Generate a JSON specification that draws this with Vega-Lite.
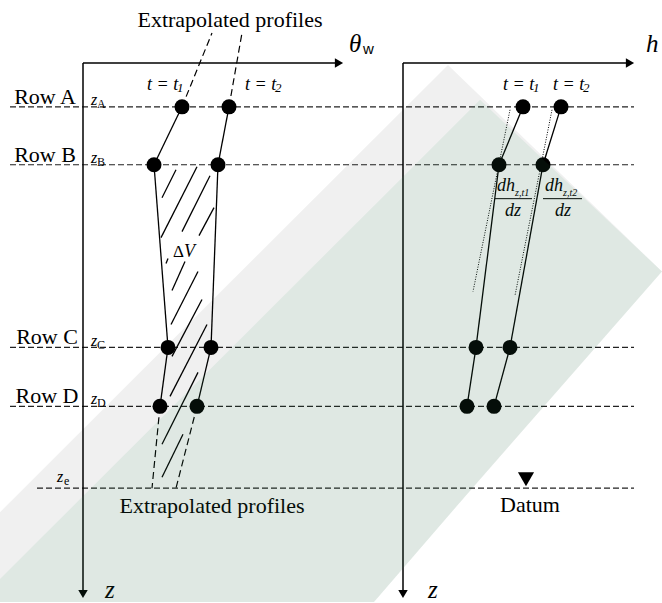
{
  "$schema": "https://vega.github.io/schema/vega-lite/v6.json",
  "width": 662,
  "height": 603,
  "autosize": {"type": "fit", "contains": "padding"},
  "padding": 0,
  "background": "white",
  "config": {"view": {"stroke": null}},
  "datasets": {
    "segs": [
      {"kind": "row", "x": 10, "y": 107, "x2": 634, "y2": 107},
      {"kind": "row", "x": 10, "y": 165, "x2": 634, "y2": 165},
      {"kind": "row", "x": 10, "y": 348, "x2": 634, "y2": 348},
      {"kind": "row", "x": 10, "y": 407, "x2": 634, "y2": 407},
      {"kind": "row", "x": 37, "y": 489, "x2": 634, "y2": 489},
      {"kind": "axis", "x": 83, "y": 63, "x2": 83, "y2": 594},
      {"kind": "axis", "x": 83, "y": 63, "x2": 336, "y2": 63},
      {"kind": "axis", "x": 403, "y": 63, "x2": 403, "y2": 594},
      {"kind": "axis", "x": 403, "y": 63, "x2": 626, "y2": 63},
      {"kind": "solid", "x": 182, "y": 107, "x2": 154, "y2": 165},
      {"kind": "solid", "x": 154, "y": 165, "x2": 168, "y2": 348},
      {"kind": "solid", "x": 168, "y": 348, "x2": 160, "y2": 407},
      {"kind": "solid", "x": 229, "y": 107, "x2": 218, "y2": 165},
      {"kind": "solid", "x": 218, "y": 165, "x2": 211, "y2": 348},
      {"kind": "solid", "x": 211, "y": 348, "x2": 197, "y2": 407},
      {"kind": "solid", "x": 523, "y": 107, "x2": 499, "y2": 165},
      {"kind": "solid", "x": 499, "y": 165, "x2": 476, "y2": 348},
      {"kind": "solid", "x": 476, "y": 348, "x2": 467, "y2": 407},
      {"kind": "solid", "x": 561, "y": 107, "x2": 543, "y2": 165},
      {"kind": "solid", "x": 543, "y": 165, "x2": 510, "y2": 348},
      {"kind": "solid", "x": 510, "y": 348, "x2": 494, "y2": 407},
      {"kind": "dash", "x": 160, "y": 407, "x2": 152, "y2": 489},
      {"kind": "dash", "x": 197, "y": 407, "x2": 176, "y2": 489},
      {"kind": "dash", "x": 182, "y": 107, "x2": 212, "y2": 33},
      {"kind": "dash", "x": 229, "y": 107, "x2": 242, "y2": 33},
      {"kind": "dot", "x": 510, "y": 110, "x2": 473, "y2": 292},
      {"kind": "dot", "x": 552, "y": 110, "x2": 515, "y2": 296},
      {"kind": "frac", "x": 495, "y": 199, "x2": 532, "y2": 199},
      {"kind": "frac", "x": 543, "y": 199, "x2": 582, "y2": 199},
      {"kind": "hatch", "x": 176, "y": 170, "x2": 162, "y2": 198},
      {"kind": "hatch", "x": 197, "y": 167, "x2": 161, "y2": 238},
      {"kind": "hatch", "x": 210, "y": 176, "x2": 182, "y2": 232},
      {"kind": "hatch", "x": 214, "y": 208, "x2": 199, "y2": 236},
      {"kind": "hatch", "x": 168, "y": 259, "x2": 166, "y2": 264},
      {"kind": "hatch", "x": 185, "y": 262, "x2": 172, "y2": 291},
      {"kind": "hatch", "x": 198, "y": 272, "x2": 171, "y2": 325},
      {"kind": "hatch", "x": 202, "y": 300, "x2": 172, "y2": 357},
      {"kind": "hatch", "x": 207, "y": 325, "x2": 170, "y2": 397},
      {"kind": "hatch", "x": 198, "y": 373, "x2": 162, "y2": 445},
      {"kind": "hatch", "x": 183, "y": 435, "x2": 162, "y2": 478}
    ],
    "pts": [
      {"x": 182, "y": 107}, {"x": 229, "y": 107}, {"x": 154, "y": 165}, {"x": 218, "y": 165},
      {"x": 168, "y": 348}, {"x": 211, "y": 348}, {"x": 160, "y": 407}, {"x": 197, "y": 407},
      {"x": 523, "y": 107}, {"x": 561, "y": 107}, {"x": 499, "y": 165}, {"x": 543, "y": 165},
      {"x": 476, "y": 348}, {"x": 510, "y": 348}, {"x": 467, "y": 407}, {"x": 494, "y": 407}
    ],
    "arrows": [
      {"dir": "right", "x": 339, "y": 63},
      {"dir": "right", "x": 630, "y": 63},
      {"dir": "down", "x": 83, "y": 595},
      {"dir": "down", "x": 403, "y": 595},
      {"dir": "datum", "x": 526, "y": 480}
    ],
    "txt": [
      {"role": "big", "x": 230, "y": 27, "text": "Extrapolated profiles"},
      {"role": "big", "x": 212, "y": 514, "text": "Extrapolated profiles"},
      {"role": "big", "x": 530, "y": 513, "text": "Datum"},
      {"role": "big", "x": 45, "y": 104, "text": "Row A"},
      {"role": "big", "x": 45, "y": 162, "text": "Row B"},
      {"role": "big", "x": 47, "y": 345, "text": "Row C"},
      {"role": "big", "x": 47, "y": 404, "text": "Row D"},
      {"role": "axisvar", "x": 349, "y": 52, "text": "θ"},
      {"role": "axisvar", "x": 646, "y": 52, "text": "h"},
      {"role": "axisvar", "x": 105, "y": 599, "text": "z"},
      {"role": "axisvar", "x": 428, "y": 599, "text": "z"},
      {"role": "wsans", "x": 363, "y": 54, "text": "w"},
      {"role": "zvar", "x": 91, "y": 105, "text": "z"},
      {"role": "zvar", "x": 91, "y": 163, "text": "z"},
      {"role": "zvar", "x": 91, "y": 347, "text": "z"},
      {"role": "zvar", "x": 91, "y": 405, "text": "z"},
      {"role": "zvar", "x": 57, "y": 483, "text": "z"},
      {"role": "sub", "x": 97, "y": 108, "text": "A"},
      {"role": "sub", "x": 97, "y": 166, "text": "B"},
      {"role": "sub", "x": 97, "y": 350, "text": "C"},
      {"role": "sub", "x": 97, "y": 408, "text": "D"},
      {"role": "sub", "x": 64, "y": 486, "text": "e"},
      {"role": "var", "x": 147, "y": 90, "text": "t = t"},
      {"role": "var", "x": 245, "y": 90, "text": "t = t"},
      {"role": "var", "x": 503, "y": 90, "text": "t = t"},
      {"role": "var", "x": 553, "y": 90, "text": "t = t"},
      {"role": "subit", "x": 177, "y": 92, "text": "1"},
      {"role": "subit", "x": 275, "y": 92, "text": "2"},
      {"role": "subit", "x": 533, "y": 92, "text": "1"},
      {"role": "subit", "x": 583, "y": 92, "text": "2"},
      {"role": "var", "x": 497, "y": 191, "text": "dh"},
      {"role": "var", "x": 545, "y": 191, "text": "dh"},
      {"role": "var", "x": 505, "y": 216, "text": "dz"},
      {"role": "var", "x": 555, "y": 216, "text": "dz"},
      {"role": "tiny", "x": 515, "y": 196, "text": "z,t1"},
      {"role": "tiny", "x": 563, "y": 196, "text": "z,t2"},
      {"role": "delta", "x": 173, "y": 257, "text": "Δ"},
      {"role": "var", "x": 184, "y": 257, "text": "V"}
    ],
    "band": [
      {"part": "outer", "x": 0, "y": 513, "y2": 603},
      {"part": "outer", "x": 374, "y": 139, "y2": 603},
      {"part": "outer", "x": 448, "y": 65, "y2": 517},
      {"part": "outer", "x": 662, "y": 272, "y2": 272},
      {"part": "inner", "x": 0, "y": 580, "y2": 603},
      {"part": "inner", "x": 374, "y": 206, "y2": 603},
      {"part": "inner", "x": 480, "y": 100, "y2": 480},
      {"part": "inner", "x": 662, "y": 272, "y2": 272}
    ]
  },
  "encoding": {
    "x": {"field": "x", "type": "quantitative", "scale": {"domain": [0, 662], "nice": false, "zero": false}, "axis": null},
    "y": {"field": "y", "type": "quantitative", "scale": {"domain": [0, 603], "reverse": true, "nice": false, "zero": false}, "axis": null}
  },
  "layer": [
    {"data": {"name": "segs"}, "transform": [{"filter": "datum.kind == 'row'"}],
     "mark": {"type": "rule", "color": "#222", "strokeWidth": 1.2, "strokeDash": [6, 3]},
     "encoding": {"x2": {"field": "x2"}, "y2": {"field": "y2"}}},
    {"data": {"name": "segs"}, "transform": [{"filter": "datum.kind == 'axis'"}],
     "mark": {"type": "rule", "color": "#000", "strokeWidth": 1.5},
     "encoding": {"x2": {"field": "x2"}, "y2": {"field": "y2"}}},
    {"data": {"name": "segs"}, "transform": [{"filter": "datum.kind == 'solid' || datum.kind == 'hatch'"}],
     "mark": {"type": "rule", "color": "#000", "strokeWidth": 1.3},
     "encoding": {"x2": {"field": "x2"}, "y2": {"field": "y2"}}},
    {"data": {"name": "segs"}, "transform": [{"filter": "datum.kind == 'frac'"}],
     "mark": {"type": "rule", "color": "#000", "strokeWidth": 1},
     "encoding": {"x2": {"field": "x2"}, "y2": {"field": "y2"}}},
    {"data": {"name": "segs"}, "transform": [{"filter": "datum.kind == 'dash'"}],
     "mark": {"type": "rule", "color": "#000", "strokeWidth": 1.2, "strokeDash": [7, 4]},
     "encoding": {"x2": {"field": "x2"}, "y2": {"field": "y2"}}},
    {"data": {"name": "segs"}, "transform": [{"filter": "datum.kind == 'dot'"}],
     "mark": {"type": "rule", "color": "#000", "strokeWidth": 1, "strokeDash": [1, 1.5]},
     "encoding": {"x2": {"field": "x2"}, "y2": {"field": "y2"}}},
    {"data": {"name": "pts"},
     "mark": {"type": "point", "shape": "circle", "filled": true, "color": "#000", "opacity": 1, "size": 225}},
    {"data": {"name": "arrows"}, "transform": [{"filter": "datum.dir == 'right'"}],
     "mark": {"type": "point", "shape": "triangle-right", "filled": true, "color": "#000", "opacity": 1, "size": 90}},
    {"data": {"name": "arrows"}, "transform": [{"filter": "datum.dir == 'down'"}],
     "mark": {"type": "point", "shape": "triangle-down", "filled": true, "color": "#000", "opacity": 1, "size": 90}},
    {"data": {"name": "arrows"}, "transform": [{"filter": "datum.dir == 'datum'"}],
     "mark": {"type": "point", "shape": "triangle-down", "filled": true, "color": "#000", "opacity": 1, "size": 260}},
    {"data": {"name": "txt"}, "transform": [{"filter": "datum.role == 'big'"}],
     "mark": {"type": "text", "font": "Times New Roman, Liberation Serif, serif", "fontSize": 22, "align": "center", "baseline": "alphabetic", "color": "#000"},
     "encoding": {"text": {"field": "text"}}},
    {"data": {"name": "txt"}, "transform": [{"filter": "datum.role == 'axisvar'"}],
     "mark": {"type": "text", "font": "Times New Roman, Liberation Serif, serif", "fontSize": 25, "fontStyle": "italic", "align": "left", "baseline": "alphabetic", "color": "#000"},
     "encoding": {"text": {"field": "text"}}},
    {"data": {"name": "txt"}, "transform": [{"filter": "datum.role == 'wsans'"}],
     "mark": {"type": "text", "font": "Arial, Liberation Sans, sans-serif", "fontSize": 15, "align": "left", "baseline": "alphabetic", "color": "#000"},
     "encoding": {"text": {"field": "text"}}},
    {"data": {"name": "txt"}, "transform": [{"filter": "datum.role == 'zvar'"}],
     "mark": {"type": "text", "font": "Times New Roman, Liberation Serif, serif", "fontSize": 16, "fontStyle": "italic", "align": "left", "baseline": "alphabetic", "color": "#000"},
     "encoding": {"text": {"field": "text"}}},
    {"data": {"name": "txt"}, "transform": [{"filter": "datum.role == 'sub'"}],
     "mark": {"type": "text", "font": "Times New Roman, Liberation Serif, serif", "fontSize": 12, "align": "left", "baseline": "alphabetic", "color": "#000"},
     "encoding": {"text": {"field": "text"}}},
    {"data": {"name": "txt"}, "transform": [{"filter": "datum.role == 'var'"}],
     "mark": {"type": "text", "font": "Times New Roman, Liberation Serif, serif", "fontSize": 18, "fontStyle": "italic", "align": "left", "baseline": "alphabetic", "color": "#000"},
     "encoding": {"text": {"field": "text"}}},
    {"data": {"name": "txt"}, "transform": [{"filter": "datum.role == 'subit'"}],
     "mark": {"type": "text", "font": "Times New Roman, Liberation Serif, serif", "fontSize": 13, "fontStyle": "italic", "align": "left", "baseline": "alphabetic", "color": "#000"},
     "encoding": {"text": {"field": "text"}}},
    {"data": {"name": "txt"}, "transform": [{"filter": "datum.role == 'tiny'"}],
     "mark": {"type": "text", "font": "Times New Roman, Liberation Serif, serif", "fontSize": 10, "fontStyle": "italic", "align": "left", "baseline": "alphabetic", "color": "#000"},
     "encoding": {"text": {"field": "text"}}},
    {"data": {"name": "txt"}, "transform": [{"filter": "datum.role == 'delta'"}],
     "mark": {"type": "text", "font": "Times New Roman, Liberation Serif, serif", "fontSize": 17, "align": "left", "baseline": "alphabetic", "color": "#000"},
     "encoding": {"text": {"field": "text"}}},
    {"data": {"name": "band"}, "transform": [{"filter": "datum.part == 'outer'"}],
     "mark": {"type": "area", "color": "#000000", "opacity": 0.06},
     "encoding": {"y2": {"field": "y2"}}},
    {"data": {"name": "band"}, "transform": [{"filter": "datum.part == 'inner'"}],
     "mark": {"type": "area", "color": "#3ca064", "opacity": 0.09},
     "encoding": {"y2": {"field": "y2"}}}
  ]
}
